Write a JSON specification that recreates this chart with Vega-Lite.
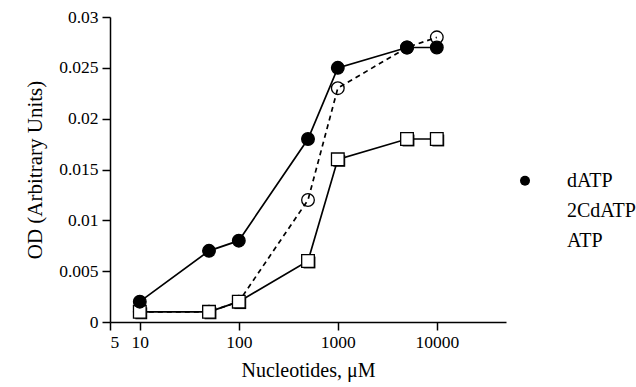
{
  "$schema": "https://vega.github.io/schema/vega-lite/v6.json",
  "width": 396,
  "height": 305,
  "autosize": {"type": "none"},
  "padding": {"left": 110, "top": 17, "right": 130, "bottom": 65},
  "background": "white",
  "config": {
    "view": {"stroke": null},
    "font": "Liberation Serif",
    "axis": {
      "domainColor": "black",
      "domainWidth": 1.5,
      "tickColor": "black",
      "tickWidth": 1.5,
      "tickSize": 8,
      "labelFont": "Liberation Serif",
      "labelFontSize": 17.5,
      "labelColor": "black",
      "titleFont": "Liberation Serif",
      "titleFontSize": 20,
      "titleFontWeight": "normal",
      "titleColor": "black",
      "grid": false
    },
    "legend": {
      "padding": 0,
      "symbolStrokeColor": "black",
      "symbolStrokeWidth": 1.5,
      "labelFont": "Liberation Serif",
      "labelFontSize": 20,
      "labelColor": "black"
    }
  },
  "data": {
    "values": [
      {"series": "2CdATP", "conc": 10, "od": 0.001},
      {"series": "2CdATP", "conc": 50, "od": 0.001},
      {"series": "2CdATP", "conc": 100, "od": 0.002},
      {"series": "2CdATP", "conc": 500, "od": 0.012},
      {"series": "2CdATP", "conc": 1000, "od": 0.023},
      {"series": "2CdATP", "conc": 5000, "od": 0.027},
      {"series": "2CdATP", "conc": 10000, "od": 0.028},
      {"series": "ATP", "conc": 10, "od": 0.001},
      {"series": "ATP", "conc": 50, "od": 0.001},
      {"series": "ATP", "conc": 100, "od": 0.002},
      {"series": "ATP", "conc": 500, "od": 0.006},
      {"series": "ATP", "conc": 1000, "od": 0.016},
      {"series": "ATP", "conc": 5000, "od": 0.018},
      {"series": "ATP", "conc": 10000, "od": 0.018},
      {"series": "dATP", "conc": 10, "od": 0.002},
      {"series": "dATP", "conc": 50, "od": 0.007},
      {"series": "dATP", "conc": 100, "od": 0.008},
      {"series": "dATP", "conc": 500, "od": 0.018},
      {"series": "dATP", "conc": 1000, "od": 0.025},
      {"series": "dATP", "conc": 5000, "od": 0.027},
      {"series": "dATP", "conc": 10000, "od": 0.027}
    ]
  },
  "encoding": {
    "x": {
      "field": "conc",
      "type": "quantitative",
      "scale": {"type": "log", "domain": [5, 50000], "nice": false},
      "axis": {
        "title": "Nucleotides, μM",
        "values": [5, 10, 100, 1000, 10000],
        "format": "d",
        "labelPadding": 3,
        "titlePadding": 10
      }
    },
    "y": {
      "field": "od",
      "type": "quantitative",
      "scale": {"domain": [0, 0.03], "nice": false},
      "axis": {
        "title": "OD (Arbitrary Units)",
        "values": [0, 0.005, 0.01, 0.015, 0.02, 0.025, 0.03],
        "format": "~g",
        "labelPadding": 4,
        "titlePadding": 13,
        "titleFontSize": 21
      }
    }
  },
  "layer": [
    {
      "transform": [{"filter": "datum.series != '2CdATP'"}],
      "mark": {"type": "line", "color": "black", "strokeWidth": 1.7},
      "encoding": {
        "detail": {"field": "series"},
        "order": {"field": "conc", "type": "quantitative"}
      }
    },
    {
      "transform": [{"filter": "datum.series == '2CdATP'"}],
      "mark": {"type": "line", "color": "black", "strokeWidth": 1.7, "strokeDash": [5, 4]},
      "encoding": {
        "order": {"field": "conc", "type": "quantitative"}
      }
    },
    {
      "transform": [{"filter": "datum.series == 'ATP'"}],
      "mark": {"type": "point", "shape": "square", "filled": true, "color": "black", "size": 140, "xOffset": 1.5, "yOffset": 1.5, "opacity": 1}
    },
    {
      "mark": {"type": "point", "stroke": "black", "strokeWidth": 1.3, "size": 160, "opacity": 1},
      "encoding": {
        "shape": {
          "field": "series",
          "type": "nominal",
          "scale": {"domain": ["dATP", "2CdATP", "ATP"], "range": ["circle", "circle", "square"]},
          "legend": {
            "title": null,
            "orient": "none",
            "legendX": 405,
            "legendY": 149,
            "clipHeight": 29.5,
            "rowPadding": 0,
            "labelOffset": 32
          }
        },
        "fill": {
          "field": "series",
          "type": "nominal",
          "scale": {"domain": ["dATP", "2CdATP", "ATP"], "range": ["black", "transparent", "white"]},
          "legend": {
            "title": null,
            "orient": "none",
            "legendX": 405,
            "legendY": 149,
            "clipHeight": 29.5,
            "rowPadding": 0,
            "labelOffset": 32
          }
        }
      }
    }
  ]
}
